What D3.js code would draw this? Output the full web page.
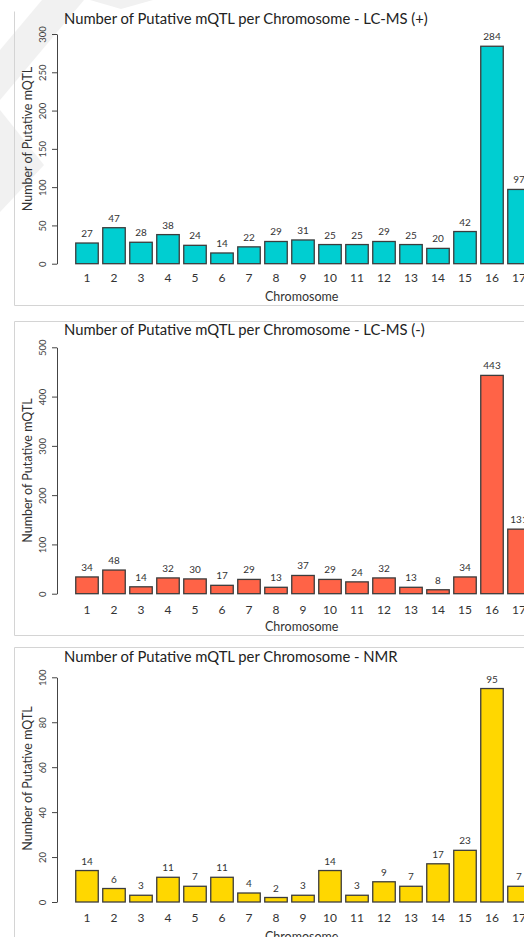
<!DOCTYPE html>
<html>
<head>
<meta charset="utf-8">
<script src="https://cdn.jsdelivr.net/npm/d3@7"></script>
<style>
  body { margin: 0; background: #fff; }
  text { font-family: Lato, "Noto Sans", sans-serif; fill: #333; }
</style>
</head>
<body>
<div id="chart"></div>
<script>
// chart data
var chromosomes = ["1","2","3","4","5","6","7","8","9","10","11","12","13","14","15","16","17"];
var lcmsPos = [27, 47, 28, 38, 24, 14, 22, 29, 31, 25, 25, 29, 25, 20, 42, 284, 97];
var lcmsNeg = [34, 48, 14, 32, 30, 17, 29, 13, 37, 29, 24, 32, 13, 8, 34, 443, 131];
var nmr = [14, 6, 3, 11, 7, 11, 4, 2, 3, 14, 3, 9, 7, 17, 23, 95, 7];
var titles = [
  "Number of Putative mQTL per Chromosome - LC-MS (+)",
  "Number of Putative mQTL per Chromosome - LC-MS (-)",
  "Number of Putative mQTL per Chromosome - NMR"
];
var ticksPos = [0, 50, 100, 150, 200, 250, 300];
var ticksNeg = [0, 100, 200, 300, 400, 500];
var ticksNmr = [0, 20, 40, 60, 80, 100];
var colors = ["#00CED1", "#FF6347", "#FFD700"];

var svgWidth = 524, svgHeight = 937;

// layout of each panel (pixel positions)
var layout = [
  { values: lcmsPos, ticks: ticksPos, yTop: 34, yBottom: 263.7, titleY: 24, tickY: 263.7, xLabY: 301, yLabY: 139, boxTop: 11.5, boxBottom: 305.5, showTop: false },
  { values: lcmsNeg, ticks: ticksNeg, yTop: 347.3, yBottom: 593.7, titleY: 334.5, tickY: 595.5, xLabY: 631, yLabY: 470.5, boxTop: 321.5, boxBottom: 635.5, showTop: true },
  { values: nmr, ticks: ticksNmr, yTop: 677.3, yBottom: 902, titleY: 662, tickY: 903.5, xLabY: 941, yLabY: 778.5, boxTop: 647.5, boxBottom: 960, showTop: true }
];

var svg = d3.select("#chart")
  .append("svg")
  .attr("width", svgWidth)
  .attr("height", svgHeight);

// faint watermark shapes behind everything
var marks = [
  [[42, 0], [84, 0], [0, 100], [0, 50]],
  [[0, 110], [44, 165], [0, 212]],
  [[90, 0], [153, 0], [121, 9]]
];
svg.append("g").selectAll("polygon").data(marks).enter()
  .append("polygon")
  .attr("points", d => d.map(p => p.join(",")).join(" "))
  .attr("fill", "#f1f1f1");

var xScale = d3.scaleBand()
  .domain(chromosomes)
  .range([73.5, 73.5 + 17 * 27])
  .paddingInner(1 / 6)
  .paddingOuter(1 / 12);

layout.forEach(function(p, i) {
  var g = svg.append("g");

  // panel frame
  g.append("line").attr("x1", 14.5).attr("x2", 14.5).attr("y1", p.boxTop).attr("y2", p.boxBottom)
    .attr("stroke", "#d4d4d4");
  g.append("line").attr("x1", 14.5).attr("x2", svgWidth).attr("y1", p.boxBottom).attr("y2", p.boxBottom)
    .attr("stroke", "#d4d4d4");
  if (p.showTop) {
    g.append("line").attr("x1", 14.5).attr("x2", svgWidth).attr("y1", p.boxTop).attr("y2", p.boxTop)
      .attr("stroke", "#d4d4d4");
  }

  var yScale = d3.scaleLinear()
    .domain([0, d3.max(p.ticks)])
    .range([p.yBottom, p.yTop]);

  // y axis
  var leftAxis = d3.axisLeft(yScale).tickValues(p.ticks).tickSize(5).tickSizeOuter(0).tickPadding(6);
  var yAxis = g.append("g")
    .attr("transform", "translate(57, 0)")
    .call(leftAxis);
  yAxis.select(".domain").attr("stroke", "#444");
  yAxis.selectAll(".tick line").attr("stroke", "#444");
  yAxis.selectAll(".tick text")
    .attr("transform", "rotate(-90)")
    .attr("x", 0)
    .attr("y", -14)
    .attr("dy", "0.35em")
    .attr("text-anchor", "middle")
    .style("font-family", "Lato, sans-serif")
    .style("font-size", "9.5px")
    .style("fill", "#444");

  // x axis labels
  var bottomAxis = d3.axisBottom(xScale).tickSize(0).tickPadding(10);
  var xAxis = g.append("g")
    .attr("transform", `translate(0, ${p.tickY})`)
    .call(bottomAxis);
  xAxis.select(".domain").remove();
  xAxis.selectAll(".tick text")
    .style("font-family", "Lato, sans-serif")
    .style("font-size", "12px")
    .style("fill", "#333");

  // bars
  g.selectAll("rect.bar").data(p.values).enter()
    .append("rect")
    .attr("class", "bar")
    .attr("x", (d, j) => xScale(chromosomes[j]))
    .attr("y", d => yScale(d))
    .attr("width", xScale.bandwidth())
    .attr("height", d => p.yBottom - yScale(d))
    .attr("fill", colors[i])
    .attr("stroke", "#3c3c3c")
    .attr("stroke-width", 1.3);

  // value labels
  g.selectAll("text.val").data(p.values).enter()
    .append("text")
    .attr("class", "val")
    .attr("x", (d, j) => xScale(chromosomes[j]) + xScale.bandwidth() / 2)
    .attr("y", d => yScale(d) - 6)
    .attr("text-anchor", "middle")
    .attr("font-size", "10px")
    .text(d => d);

  // title
  g.append("text")
    .attr("x", 64)
    .attr("y", p.titleY)
    .attr("font-size", "14.8px")
    .style("fill", "#222")
    .text(titles[i]);

  // axis titles
  g.append("text")
    .attr("x", 265)
    .attr("y", p.xLabY)
    .attr("font-size", "12.5px")
    .text("Chromosome");

  g.append("text")
    .attr("transform", `translate(32, ${p.yLabY}) rotate(-90)`)
    .attr("text-anchor", "middle")
    .attr("font-size", "12.5px")
    .text("Number of Putative mQTL");
});
</script>
</body>
</html>
